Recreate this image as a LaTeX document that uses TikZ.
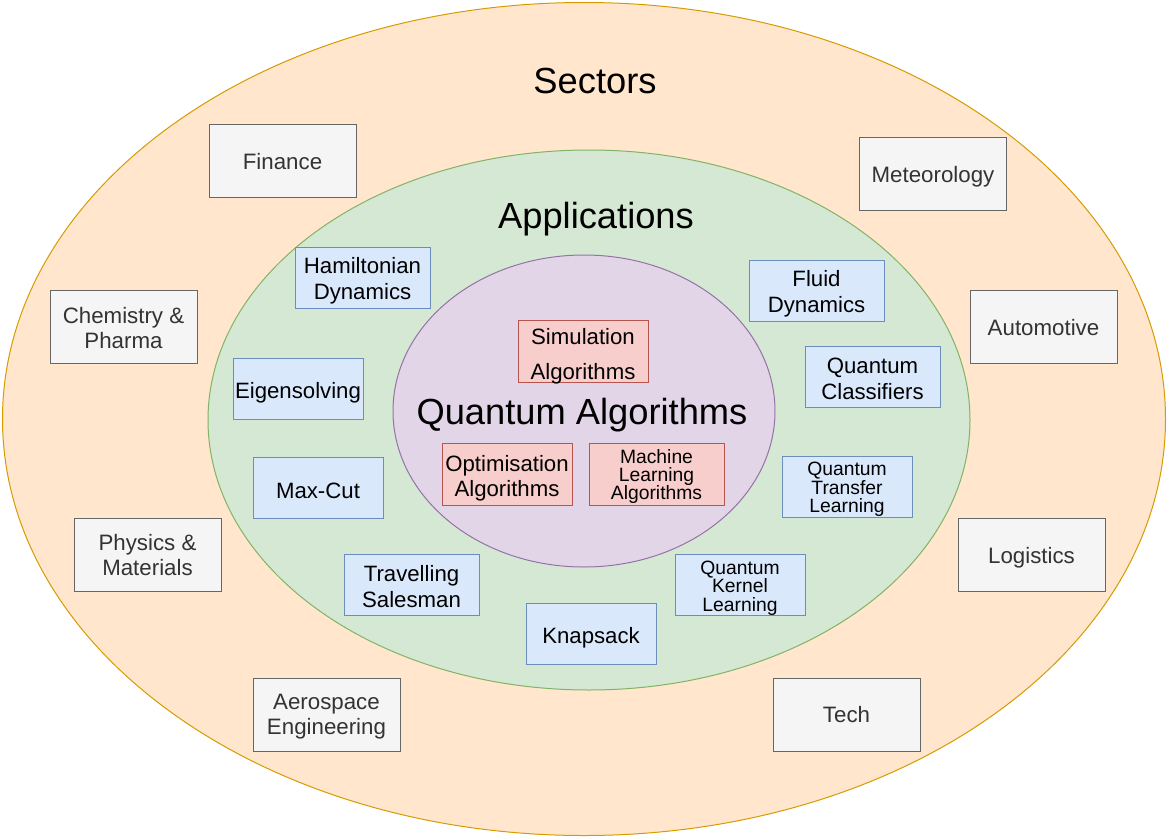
\documentclass[tikz,border=0pt]{standalone}
\usepackage{fontspec}
\setmainfont{Liberation Sans}
\usetikzlibrary{shapes.geometric}
\definecolor{orF}{HTML}{FFE6CC}\definecolor{orD}{HTML}{D79B00}
\definecolor{grF}{HTML}{D5E8D4}\definecolor{grD}{HTML}{82B366}
\definecolor{puF}{HTML}{E1D5E7}\definecolor{puD}{HTML}{9673A6}
\definecolor{blF}{HTML}{DAE8FC}\definecolor{blD}{HTML}{6C8EBF}
\definecolor{reF}{HTML}{F8CECC}\definecolor{reD}{HTML}{B85450}
\definecolor{gyF}{HTML}{F5F5F5}\definecolor{gyD}{HTML}{666666}
\definecolor{gyT}{HTML}{333333}
\tikzset{
  sectorbox/.style={draw=gyD,fill=gyF,line width=1pt,minimum width=147pt,minimum height=73pt,inner sep=0pt},
  sectortext/.style={text=gyT,align=center,inner sep=0pt,font=\fontsize{22.3}{25}\selectfont},
  appbox/.style={draw=blD,fill=blF,line width=1pt,minimum width=135pt,minimum height=61pt,inner sep=0pt},
  appboxn/.style={appbox,minimum width=130pt},
  apptext/.style={align=center,inner sep=0pt,font=\fontsize{22.2}{26}\selectfont},
  apptexts/.style={align=center,inner sep=0pt,font=\fontsize{19.3}{18.5}\selectfont},
  algbox/.style={draw=reD,fill=reF,line width=1pt,minimum width=130pt,minimum height=62pt,inner sep=0pt},
  algtext/.style={align=center,inner sep=0pt,font=\fontsize{22.2}{25}\selectfont},
  title/.style={font=\fontsize{36.3}{40}\selectfont,inner sep=0pt}
}
% #1 box style, #2 text style, #3 name, #4 position, #5 text shift, #6 text
\newcommand\boxlabel[6]{%
  \node[#1] (#3) at #4 {};
  \node[#2] (#3-t) at ([yshift=-#5pt]#3.center) {#6};}
\begin{document}
\begin{tikzpicture}[x=1pt,y=-1pt]
\useasboundingbox (0,0) rectangle (1168,838);
\node[ellipse,draw=orD,fill=orF,line width=1pt,minimum width=1163pt,minimum height=833pt,inner sep=0pt] (outer) at (584,419) {};
\node[ellipse,draw=grD,fill=grF,line width=1pt,minimum width=762pt,minimum height=540pt,inner sep=0pt] (mid) at (589,420) {};
\node[ellipse,draw=puD,fill=puF,line width=1pt,minimum width=382pt,minimum height=312pt,inner sep=0pt] (inner) at (584,411) {};

\node[title] (sectors) at (595,81) {Sectors};
\node[title] (apps) at (596,219) {Applications};
\node[title] (qa) at (582,415) {Quantum Algorithms};

% sectors
\boxlabel{sectorbox}{sectortext}{fin}{(282.5,160.5)}{1}{Finance}
\boxlabel{sectorbox}{sectortext}{met}{(933,173.5)}{3}{Meteorology}
\boxlabel{sectorbox}{sectortext}{chem}{(123.5,327)}{1}{Chemistry \&\\Pharma}
\boxlabel{sectorbox}{sectortext}{auto}{(1043.5,327)}{1}{Automotive}
\boxlabel{sectorbox}{sectortext}{phys}{(147.5,554.5)}{1}{Physics \&\\Materials}
\boxlabel{sectorbox}{sectortext}{log}{(1031.5,554.5)}{3}{Logistics}
\boxlabel{sectorbox}{sectortext}{aero}{(326.5,714.5)}{2}{Aerospace\\Engineering}
\boxlabel{sectorbox}{sectortext}{tech}{(846.5,714.5)}{0}{Tech}

% applications
\boxlabel{appbox}{apptext}{ham}{(362.5,277.5)}{3}{Hamiltonian\\Dynamics}
\boxlabel{appbox}{apptext}{fluid}{(816.5,290.5)}{3}{Fluid\\Dynamics}
\boxlabel{appboxn}{apptext}{eig}{(298,388.5)}{4}{Eigensolving}
\boxlabel{appbox}{apptext}{qc}{(872.5,376.5)}{2}{Quantum\\Classifiers}
\boxlabel{appboxn}{apptext}{max}{(318,487.5)}{3}{Max-Cut}
\boxlabel{appboxn}{apptexts}{qtl}{(847,486.5)}{3}{Quantum\\Transfer\\Learning}
\boxlabel{appbox}{apptext}{tsp}{(411.5,585)}{2}{Travelling\\Salesman}
\boxlabel{appboxn}{apptexts}{qkl}{(740,585)}{3}{Quantum\\Kernel\\Learning}
\boxlabel{appboxn}{apptext}{knap}{(591,634)}{4}{Knapsack}

% algorithms
\boxlabel{algbox}{algtext,font=\fontsize{22.2}{35}\selectfont}{sim}{(583,351.5)}{5}{Simulation\\Algorithms}
\boxlabel{algbox}{algtext}{opt}{(507,474)}{4}{Optimisation\\Algorithms}
\boxlabel{algbox,minimum width=135pt}{apptexts,font=\fontsize{19.3}{18}\selectfont}{ml}{(656.5,474)}{3}{Machine\\Learning\\Algorithms}
\end{tikzpicture}
\end{document}
